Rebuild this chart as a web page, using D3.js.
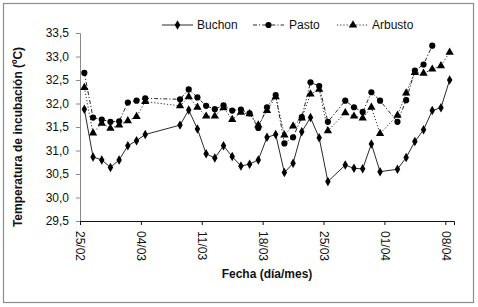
<!DOCTYPE html>
<html>
<head>
<meta charset="utf-8">
<script src="https://cdn.jsdelivr.net/npm/d3@7"></script>
<style>
  html, body { margin: 0; padding: 0; background: #ffffff; }
  #chart { width: 478px; height: 307px; }
</style>
</head>
<body>
<div id="chart"></div>
<script>
// Observation dates (dd/mm); days without data are simply absent
const dates = [
    "25/02", "26/02", "27/02", "28/02", "01/03", "02/03", "03/03", "04/03",
    "08/03", "09/03", "10/03", "11/03", "12/03", "13/03", "14/03", "15/03",
    "16/03", "17/03", "18/03", "19/03", "20/03", "21/03", "22/03", "23/03",
    "24/03", "25/03", "27/03", "28/03", "29/03", "30/03", "31/03", "02/04",
    "03/04", "04/04", "05/04", "06/04", "07/04", "08/04"
];
const buchon = [
    31.88, 30.86, 30.80, 30.64, 30.80, 31.10, 31.21, 31.34,
    31.54, 31.86, 31.46, 30.93, 30.84, 31.10, 30.87, 30.67,
    30.71, 30.80, 31.28, 31.34, 30.53, 30.73, 31.40, 31.70,
    31.27, 30.34, 30.69, 30.62, 30.61, 31.14, 30.55, 30.60,
    30.85, 31.19, 31.44, 31.85, 31.91, 32.50
];
const pasto = [
    32.65, 31.70, 31.66, 31.61, 31.62, 32.02, 32.06, 32.11,
    32.09, 32.30, 32.13, 31.95, 31.88, 31.96, 31.85, 31.87,
    31.79, 31.48, 31.92, 32.18, 31.15, 31.28, 31.71, 32.45,
    32.37, 31.61, 32.06, 31.92, 31.82, 32.24, 32.06, 31.61,
    32.07, 32.70, 32.83, 33.23, null, null
];
const arbusto = [
    32.34, 31.37, 31.58, 31.47, 31.54, 31.63, 31.72, 32.04,
    31.95, 32.14, 31.92, 31.73, 31.73, 31.91, 31.66, 31.81,
    31.78, 31.54, 31.85, 32.14, 31.33, 31.52, 31.69, 32.20,
    32.30, 31.42, 31.80, 31.73, 31.69, 31.92, 31.36, 31.75,
    32.22, 32.66, 32.64, 32.73, 32.80, 33.09
];
const xTickLabels = ["25/02", "04/03", "11/03", "18/03", "25/03", "01/04", "08/04"];
const yTickValues = [29.5, 30.0, 30.5, 31.0, 31.5, 32.0, 32.5, 33.0, 33.5];
const seriesNames = ["Buchon", "Pasto", "Arbusto"];

function makeChart(containerSelector) {
    // Block 1: Setup
    const width = 478, height = 307;
    d3.select(containerSelector).html("");
    const svg = d3.select(containerSelector).append("svg")
        .attr("width", width)
        .attr("height", height)
        .attr("xmlns", "http://www.w3.org/2000/svg");

    const fontFamily = "'Liberation Sans', Arial, sans-serif";
    const textColor = "#111111";
    const lineColor = "#2a2a2a";

    // outer chart frame
    svg.append("rect")
        .attr("x", 3.5).attr("y", 3.5)
        .attr("width", 470).attr("height", 299)
        .attr("fill", "#ffffff")
        .attr("stroke", "#8c8c8c")
        .attr("stroke-width", 1.2);

    // Block 2: Helpers
    const year = 2009;
    const parseDay = s => {
        const [dd, mm] = s.split("/").map(Number);
        return new Date(Date.UTC(year, mm - 1, dd));
    };
    const midDay = s => d3.utcHour.offset(parseDay(s), 12);
    const locale = d3.formatLocale({ decimal: ",", thousands: ".", grouping: [3], currency: ["", ""] });
    const fmt = locale.format(".1f");

    // Block 3: Scales
    const plot = { left: 80, right: 454, top: 33, bottom: 221 };
    const xScale = d3.scaleUtc()
        .domain([parseDay("25/02"), d3.utcDay.offset(parseDay("08/04"), 1)])
        .range([plot.left, plot.right]);
    const yScale = d3.scaleLinear()
        .domain([29.5, 33.5])
        .range([plot.bottom, plot.top]);

    // Block 4: Axes
    const yAxis = svg.append("g")
        .attr("transform", `translate(${plot.left},0)`)
        .call(d3.axisLeft(yScale).tickValues(yTickValues).tickFormat(fmt).tickSize(4).tickPadding(7));
    yAxis.select(".domain").attr("stroke", "#8a8a8a");
    yAxis.selectAll(".tick line").attr("stroke", "#8a8a8a");
    yAxis.selectAll("text")
        .style("font-family", fontFamily)
        .style("font-size", "12px")
        .style("fill", textColor);

    const xAxis = svg.append("g")
        .attr("transform", `translate(0,${plot.bottom})`)
        .call(d3.axisBottom(xScale).tickValues(xTickLabels.map(parseDay)).tickSizeOuter(0).tickSize(4)
            .tickFormat(d => d3.utcFormat("%d/%m")(d)));
    xAxis.select(".domain").attr("stroke", "#111111");
    xAxis.selectAll(".tick line").attr("stroke", "#111111");
    xAxis.selectAll("text")
        .style("font-family", fontFamily)
        .style("font-size", "12px")
        .style("fill", textColor)
        .attr("text-anchor", "start")
        .attr("transform", "rotate(90)")
        .attr("x", 10)
        .attr("y", 0)
        .attr("dy", "0.35em");

    // axis titles
    svg.append("text")
        .attr("transform", `translate(22,${(plot.top + plot.bottom) / 2 + 10}) rotate(-90)`)
        .attr("text-anchor", "middle")
        .style("font-family", fontFamily)
        .style("font-size", "12px")
        .style("font-weight", "bold")
        .style("fill", textColor)
        .text("Temperatura de incubación (ºC)");

    svg.append("text")
        .attr("x", (plot.left + plot.right) / 2)
        .attr("y", 278)
        .attr("text-anchor", "middle")
        .style("font-family", fontFamily)
        .style("font-size", "12px")
        .style("font-weight", "bold")
        .style("fill", textColor)
        .text("Fecha (día/mes)");

    // Block 5: Series
    const styles = [
        { values: buchon, dash: null, symbol: d3.symbolDiamond, size: 26 },
        { values: pasto, dash: "4,2,1.2,2", symbol: d3.symbolCircle, size: 30 },
        { values: arbusto, dash: "1.2,2", symbol: d3.symbolTriangle, size: 30 }
    ];

    const lineGen = d3.line()
        .x(d => xScale(midDay(d.date)))
        .y(d => yScale(d.value));

    styles.forEach((s, k) => {
        const pts = dates.map((date, i) => ({ date, value: s.values[i] }))
            .filter(d => d.value !== null);
        const g = svg.append("g").attr("class", "series series-" + seriesNames[k]);
        g.append("path")
            .datum(pts)
            .attr("d", lineGen)
            .attr("fill", "none")
            .attr("stroke", lineColor)
            .attr("stroke-width", 1)
            .attr("stroke-dasharray", s.dash);
        g.selectAll(".mark")
            .data(pts)
            .enter()
            .append("path")
            .attr("class", "mark")
            .attr("transform", d => `translate(${xScale(midDay(d.date))},${yScale(d.value)})`)
            .attr("d", d3.symbol().type(s.symbol).size(s.size))
            .attr("fill", "#000000");
    });

    // Block 6: Legend
    const legendY = 25;
    const legendItems = [
        { x0: 162, x1: 193, text: 197 },
        { x0: 253, x1: 284, text: 289 },
        { x0: 337, x1: 369, text: 372 }
    ];
    legendItems.forEach((it, k) => {
        const s = styles[k];
        const g = svg.append("g").attr("class", "legend-item");
        g.append("line")
            .attr("x1", it.x0).attr("x2", it.x1)
            .attr("y1", legendY).attr("y2", legendY)
            .attr("stroke", lineColor)
            .attr("stroke-width", 1)
            .attr("stroke-dasharray", s.dash);
        g.append("path")
            .attr("transform", `translate(${(it.x0 + it.x1) / 2},${legendY})`)
            .attr("d", d3.symbol().type(s.symbol).size(s.size))
            .attr("fill", "#000000");
        g.append("text")
            .attr("x", it.text)
            .attr("y", legendY)
            .attr("dy", "0.35em")
            .style("font-family", fontFamily)
            .style("font-size", "12px")
            .style("fill", textColor)
            .text(seriesNames[k]);
    });

    return svg.node();
}

makeChart("#chart");
</script>
</body>
</html>
